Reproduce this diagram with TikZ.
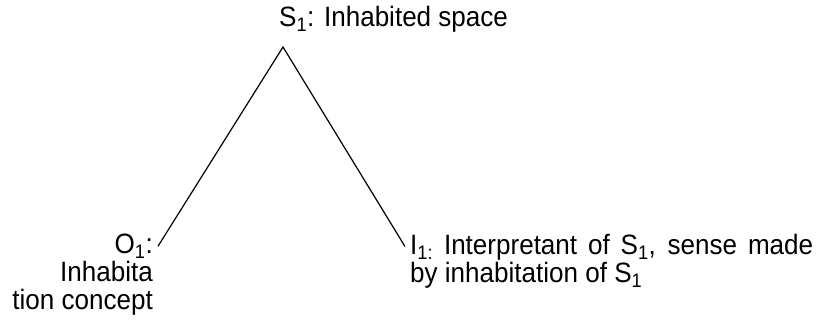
\documentclass[tikz,border=0pt]{standalone}
\usepackage{fontspec}
\setmainfont{Liberation Sans}[FakeStretch=0.93]
\usetikzlibrary{positioning}

\tikzset{
  signlabel/.style={inner sep=0pt, font=\fontsize{28}{28}\selectfont},
  signline/.style={draw=black, line width=1.2pt}
}

\begin{document}
\begin{tikzpicture}[x=1pt,y=1pt]
  \useasboundingbox (0,0) rectangle (823,326);
  % the three corners of the sign
  \node[signlabel, anchor=base west] (S1) at (279,299) {S\textsubscript{1}: Inhabited space};
  \node[signlabel, anchor=base east, align=right] (O1) at (153,16) {O\textsubscript{1}:\\Inhabita\\tion concept};
  \node[signlabel, anchor=base west, text width=403pt, align=justify] (I1) at (410,71)
    {I\textsubscript{1:} Interpretant of S\textsubscript{1}, sense made\linebreak by inhabitation of S\textsubscript{1}};
  \coordinate (apex) at (283,279);
  \coordinate (oend) at ([shift={(5pt,-12pt)}]O1.north east);
  \coordinate (iend) at ([shift={(-5pt,-12pt)}]I1.north west);
  \draw[signline] (oend) -- (apex) -- (iend);
\end{tikzpicture}
\end{document}
